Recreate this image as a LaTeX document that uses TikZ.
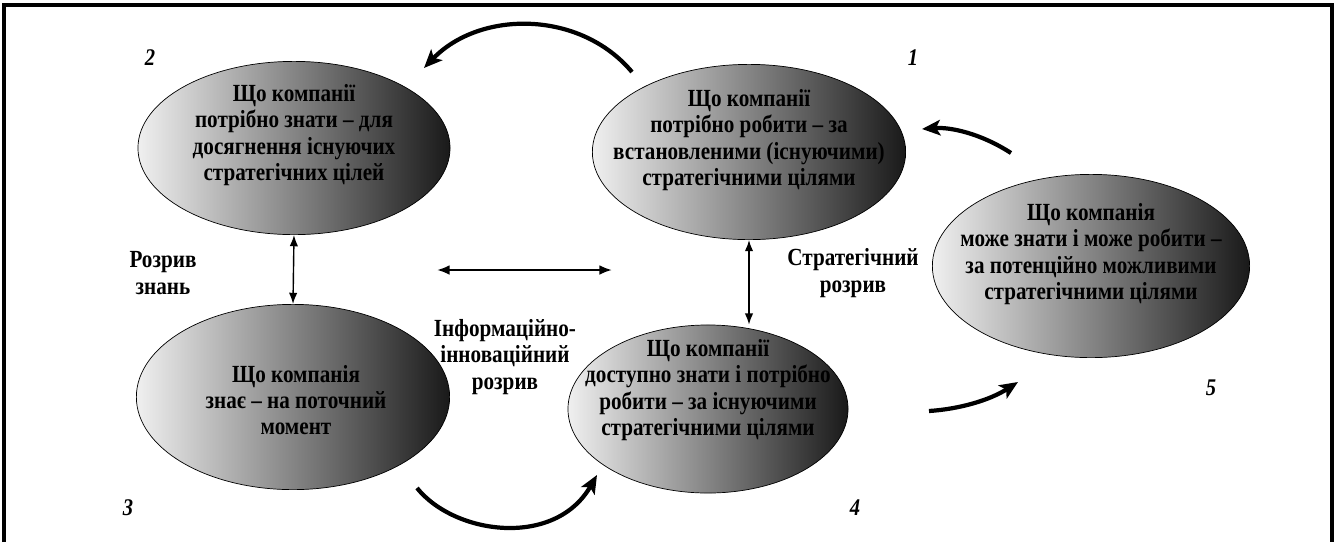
\documentclass[tikz,border=0pt]{standalone}
\usepackage{fontspec}
\setmainfont[FakeStretch=0.86]{Liberation Serif}
\usetikzlibrary{shapes.geometric,arrows.meta}

\begin{document}
\begin{tikzpicture}[x=0.025cm,y=-0.025cm,
 oval/.style={ellipse,draw,line width=0.5pt,left color=white!94!black,right color=black!90,inner sep=0pt},
 txt/.style={align=center,font=\fontsize{17.5}{18.6}\selectfont\bfseries},
 num/.style={font=\fontsize{17}{18}\selectfont\bfseries\itshape},
 gap/.style={line width=1pt,{Latex[length=8pt,width=6pt]}-{Latex[length=8pt,width=6pt]}},
 flow/.style={line width=3pt,-{Stealth[length=13pt,width=11pt,inset=3pt]}}]
 \useasboundingbox (0,0) rectangle (1336,542);
 \draw[line width=2.2pt] (4,542)--(4,5)--(1332,5)--(1332,542);

 \node[oval,minimum width=7.83cm,minimum height=4.38cm] (e1) at (749,152) {};
 \node[oval,minimum width=7.8cm,minimum height=4.33cm] (e2) at (294,148) {};
 \node[oval,minimum width=7.83cm,minimum height=4.63cm] (e3) at (293,397) {};
 \node[oval,minimum width=7.0cm,minimum height=4.2cm] (e4) at (708,409) {};
 \node[oval,minimum width=7.93cm,minimum height=4.58cm] (e5) at (1091,266) {};

 \node[txt] (t1) at (749,140) {Що компанії\\потрібно робити – за\\встановленими (існуючими)\\стратегічними цілями};
 \node[txt] (t2) at (294,135) {Що компанії\\потрібно знати – для\\досягнення існуючих\\стратегічних цілей};
 \node[txt] (t3) at (296,400) {Що компанія\\знає – на поточний\\момент};
 \node[txt] (t4) at (708,390) {Що компанії\\доступно знати і потрібно\\робити – за існуючими\\стратегічними цілями};
 \node[txt] (t5) at (1091,254) {Що компанія\\може знати і може робити –\\за потенційно можливими\\стратегічними цілями};

 \node[num] (n1) at (913,58) {1};
 \node[num] (n2) at (150,58) {2};
 \node[num] (n3) at (128,508) {3};
 \node[num] (n4) at (855,508) {4};
 \node[num] (n5) at (1211,388) {5};

 \node[txt] (g1) at (163,273) {Розрив\\знань};
 \node[txt] (g2) at (853,273) {Стратегічний\\розрив};
 \node[txt] (g3) at (505,357) {Інформаційно-\\інноваційний\\розрив};

 \draw[gap] (e2.south) -- (e3.north);
 \draw[gap] (e1.south) -- (e1.south |- e4.north);
 \coordinate (hl) at (437,270);
 \coordinate (hr) at (612,270);
 \draw[gap,line width=1.6pt,{Latex[length=9pt,width=7pt]}-{Latex[length=9pt,width=7pt]}] (hl) -- (hr);

 \coordinate (a1) at (632,72);
 \coordinate (b1) at (424,68);
 \coordinate (a5) at (1011,153);
 \coordinate (b5) at (922,129);
 \coordinate (a4) at (929,411);
 \coordinate (b4) at (1018,382);
 \coordinate (a3) at (417,488);
 \coordinate (b3) at (597,475);
 \draw[flow] (a1) .. controls (580,10) and (480,10) .. (b1);
 \draw[flow] (a5) .. controls (980,133) and (950,127) .. (b5);
 \draw[flow] (a4) .. controls (960,409) and (990,400) .. (b4);
 \draw[flow] (a3) .. controls (455,535) and (555,548) .. (b3);
\end{tikzpicture}
\end{document}
